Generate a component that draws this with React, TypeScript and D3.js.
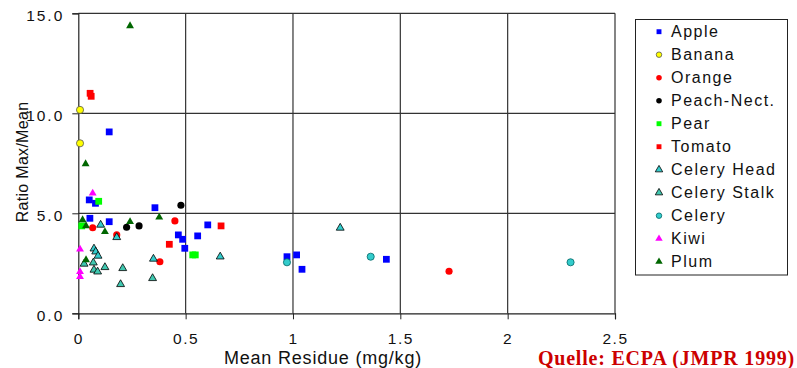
import * as d3 from "d3";
import React, { useRef, useEffect } from "react";

// series values: [mean residue (mg/kg), ratio max/mean]
const apple = [
    [0.144, 9.07], [0.051, 5.67], [0.08, 5.5], [0.357, 5.28], [0.054, 4.75],
    [0.144, 4.58], [0.603, 4.42], [0.466, 3.92], [0.486, 3.7], [0.556, 3.87],
    [0.496, 3.25], [0.972, 2.83], [1.017, 2.92], [1.042, 2.2], [1.435, 2.7],
];
const banana = [[0.008, 10.17], [0.008, 8.5]];
const orange = [
    [0.067, 4.28], [0.45, 4.62], [0.179, 3.92], [0.38, 2.58], [1.727, 2.1],
];
const peach = [[0.478, 5.4], [0.225, 4.3], [0.283, 4.37]];
const pear = [[0.095, 5.6], [0.016, 4.37], [0.533, 2.92], [0.545, 2.92]];
const tomato = [[0.055, 11.0], [0.06, 10.85], [0.665, 4.37], [0.424, 3.45]];
const celeryHead = [
    [0.104, 4.42], [0.179, 3.8], [0.073, 3.23], [0.081, 3.08], [0.092, 2.87],
    [0.35, 2.72], [0.661, 2.83], [1.22, 4.27],
];
const celeryStalk = [
    [0.027, 2.47], [0.07, 2.53], [0.124, 2.3], [0.073, 2.17], [0.09, 2.08],
    [0.207, 2.25], [0.197, 1.45], [0.346, 1.75],
];
const celery = [[0.972, 2.55], [1.362, 2.83], [2.293, 2.55]];
const kiwi = [[0.067, 6.0], [0.008, 3.2], [0.008, 2.08], [0.008, 1.83]];
const plum = [
    [0.241, 14.37], [0.034, 7.47], [0.02, 4.67], [0.377, 4.8], [0.036, 4.37],
    [0.124, 4.08], [0.241, 4.58], [0.036, 2.67],
];

const xTicks = [0, 0.5, 1, 1.5, 2, 2.5];
const yTicks = [0, 5, 10, 15];

const series = [
    { name: "Apple", data: apple, shape: "square", fill: "#0000ff", stroke: "none" },
    { name: "Banana", data: banana, shape: "circle", fill: "#ffff00", stroke: "#555" },
    { name: "Orange", data: orange, shape: "circle", fill: "#ff0000", stroke: "none" },
    { name: "Peach-Nect.", data: peach, shape: "circle", fill: "#000000", stroke: "none" },
    { name: "Pear", data: pear, shape: "square", fill: "#00ff00", stroke: "none" },
    { name: "Tomato", data: tomato, shape: "square", fill: "#ff0000", stroke: "none" },
    { name: "Celery Head", data: celeryHead, shape: "triangle", fill: "#33cccc", stroke: "#000" },
    { name: "Celery Stalk", data: celeryStalk, shape: "triangle", fill: "#40c8b0", stroke: "#000" },
    { name: "Celery", data: celery, shape: "circle", fill: "#33cccc", stroke: "#006666" },
    { name: "Kiwi", data: kiwi, shape: "triangle", fill: "#ff00ff", stroke: "none" },
    { name: "Plum", data: plum, shape: "triangle", fill: "#006600", stroke: "none" },
];

const SANS = "Liberation Sans, Arial, sans-serif";

function Chart() {
    const ref = useRef(null);
    const width = 797;
    const height = 368;

    useEffect(() => {
        const svg = d3.select(ref.current);
        svg.selectAll("*").remove();

        const x = d3.scaleLinear().domain([0, 2.5]).range([78.3, 615]);
        const y = d3.scaleLinear().domain([0, 15]).range([313.3, 13.3]);

        const symbol = (shape, size) => {
            const type =
                shape === "square"
                    ? d3.symbolSquare
                    : shape === "circle"
                    ? d3.symbolCircle
                    : d3.symbolTriangle;
            return d3.symbol().type(type).size(size)();
        };
        const sizeOf = (shape) =>
            shape === "square" ? 46 : shape === "circle" ? 40 : 27;

        // gridlines
        const grid = svg.append("g");
        grid.selectAll("line.h")
            .data(yTicks.filter((d) => d > 0))
            .enter()
            .append("line")
            .attr("x1", x(0))
            .attr("x2", x(2.5))
            .attr("y1", (d) => y(d))
            .attr("y2", (d) => y(d))
            .attr("stroke", "#333")
            .attr("stroke-width", 1.2);
        grid.selectAll("line.v")
            .data(xTicks.filter((d) => d > 0))
            .enter()
            .append("line")
            .attr("x1", (d) => x(d))
            .attr("x2", (d) => x(d))
            .attr("y1", y(0))
            .attr("y2", y(15))
            .attr("stroke", "#333")
            .attr("stroke-width", 1.2);

        // axes
        const xAxis = d3
            .axisBottom(x)
            .tickValues(xTicks)
            .tickSize(6)
            .tickFormat((d) => String(d));
        const gx = svg
            .append("g")
            .attr("transform", `translate(0, ${y(0)})`)
            .call(xAxis);
        gx.select(".domain").attr("stroke", "#222").attr("stroke-width", 1.2);
        gx.selectAll(".tick line").attr("stroke", "#222");
        gx.selectAll("text")
            .attr("font-family", SANS)
            .attr("font-size", 15.5)
            .attr("letter-spacing", 1.5)
            .attr("fill", "#111")
            .attr("y", 31)
            .attr("dy", 0);

        const yAxis = d3
            .axisLeft(y)
            .tickValues(yTicks)
            .tickSize(6)
            .tickFormat(d3.format(".1f"));
        const gy = svg
            .append("g")
            .attr("transform", `translate(${x(0)}, 0)`)
            .call(yAxis);
        gy.select(".domain").attr("stroke", "#222").attr("stroke-width", 1.2);
        gy.selectAll(".tick line").attr("stroke", "#222");
        gy.selectAll("text")
            .attr("font-family", SANS)
            .attr("font-size", 15.5)
            .attr("letter-spacing", 2)
            .attr("fill", "#111")
            .attr("x", -14)
            .attr("dy", "0.45em");

        // axis titles
        svg.append("text")
            .attr("x", 323)
            .attr("y", 364)
            .attr("text-anchor", "middle")
            .attr("font-family", SANS)
            .attr("font-size", 18)
            .attr("letter-spacing", 0.8)
            .attr("fill", "#111")
            .text("Mean Residue (mg/kg)");
        svg.append("text")
            .attr("transform", `translate(28, 162) rotate(-90)`)
            .attr("text-anchor", "middle")
            .attr("font-family", SANS)
            .attr("font-size", 16)
            .attr("letter-spacing", 0.3)
            .attr("fill", "#111")
            .text("Ratio Max/Mean");

        // points
        series.forEach((s) => {
            svg.append("g")
                .selectAll("path")
                .data(s.data)
                .enter()
                .append("path")
                .attr("transform", (d) => `translate(${x(d[0])}, ${y(d[1])})`)
                .attr("d", symbol(s.shape, sizeOf(s.shape)))
                .attr("fill", s.fill)
                .attr("stroke", s.stroke)
                .attr("stroke-width", 0.8);
        });

        // legend
        const lg = svg.append("g");
        lg.append("rect")
            .attr("x", 635.5)
            .attr("y", 19.5)
            .attr("width", 152)
            .attr("height", 255.5)
            .attr("fill", "white")
            .attr("stroke", "#222")
            .attr("stroke-width", 1);
        const item = lg
            .selectAll("g.item")
            .data(series)
            .enter()
            .append("g")
            .attr("transform", (d, i) => `translate(659, ${31.7 + i * 23})`);
        item.append("path")
            .attr("d", (d) => symbol(d.shape, 24))
            .attr("fill", (d) => d.fill)
            .attr("stroke", (d) => d.stroke)
            .attr("stroke-width", 0.8);
        item.append("text")
            .attr("x", 12)
            .attr("dy", "0.36em")
            .attr("font-family", SANS)
            .attr("font-size", 16)
            .attr("letter-spacing", 1.5)
            .attr("fill", "#111")
            .text((d) => d.name);

        // source note
        svg.append("text")
            .attr("x", 795)
            .attr("y", 365)
            .attr("text-anchor", "end")
            .attr("font-family", "Liberation Serif, Times New Roman, serif")
            .attr("font-size", 20)
            .attr("font-weight", "bold")
            .attr("letter-spacing", 0.8)
            .attr("fill", "#cc0000")
            .text("Quelle: ECPA (JMPR 1999)");
    }, []);

    return (
        <svg
            ref={ref}
            width={width}
            height={height}
            style={{ position: "absolute", left: 0, top: 0, background: "white" }}
        ></svg>
    );
}

export default function App() {
    return <Chart />;
}
